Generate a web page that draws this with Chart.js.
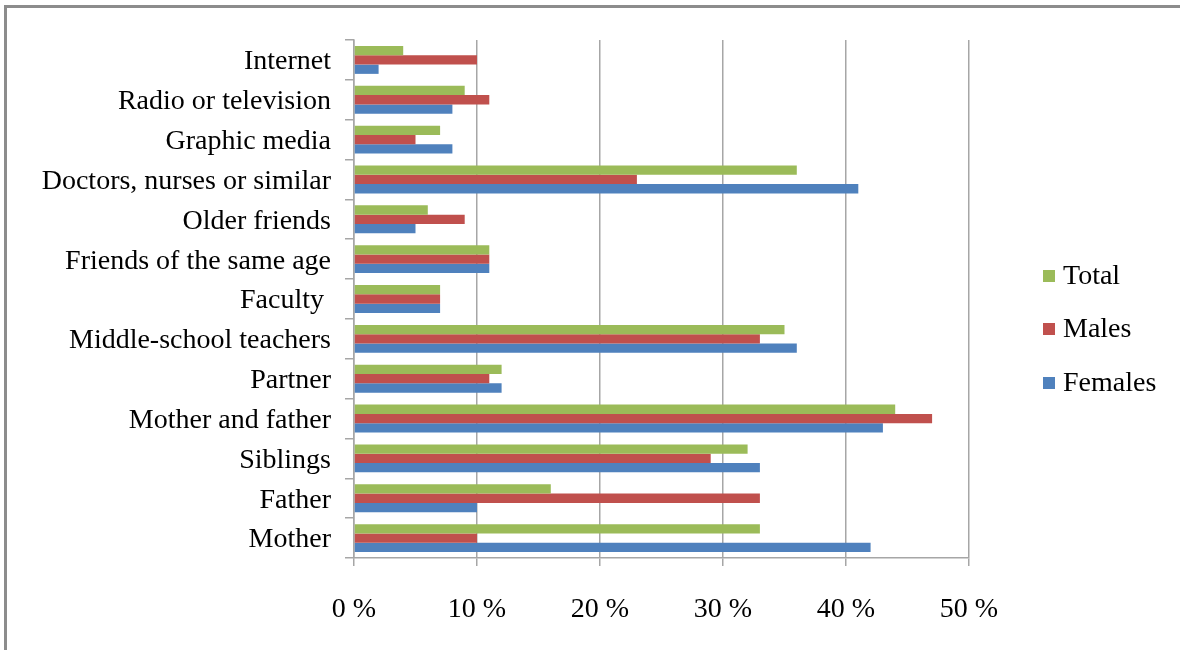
<!DOCTYPE html>
<html>
<head>
<meta charset="utf-8">
<script src="https://cdn.jsdelivr.net/npm/chart.js@4.4.0/dist/chart.umd.min.js"></script>
<style>
  html, body { margin: 0; padding: 0; background: #fff; }
  #wrap { position: relative; width: 1180px; height: 650px; }
</style>
</head>
<body>
<div id="wrap"><canvas id="sources-chart" width="1180" height="650"></canvas></div>
<script>
var categories = ["Internet", "Radio or television", "Graphic media", "Doctors, nurses or similar",
  "Older friends", "Friends of the same age", "Faculty ", "Middle-school teachers", "Partner",
  "Mother and father", "Siblings", "Father", "Mother"];
var totalValues   = [4, 9, 7, 36, 6, 11, 7, 35, 12, 44, 32, 16, 33];
var maleValues    = [10, 11, 5, 23, 9, 11, 7, 33, 11, 47, 29, 33, 10];
var femaleValues  = [2, 8, 8, 41, 5, 11, 7, 36, 12, 43, 33, 10, 42];
var tickValues = [0, 10, 20, 30, 40, 50];

var serif = "'Liberation Serif', 'DejaVu Serif', serif";
var gridGrey = "#a6a6a6";

// frame lines round the picture + legend on the right
var extras = {
  id: "extras",
  afterDraw: function(chart) {
    var c = chart.ctx;
    c.save();
    c.fillStyle = "#8c8c8c";
    c.fillRect(4, 5, 1176, 3);
    c.fillRect(4, 5, 3, 645);
    var ys = [276, 329, 383];
    chart.data.datasets.forEach(function(ds, i) {
      c.fillStyle = ds.backgroundColor;
      c.fillRect(1043, ys[i] - 6, 12, 12);
      c.fillStyle = "#000";
      c.font = "28px " + serif;
      c.textBaseline = "middle";
      c.fillText(ds.label, 1063, ys[i] + 1);
    });
    c.restore();
  }
};

var ctx = document.getElementById("sources-chart").getContext("2d");
var chart = new Chart(ctx, {
  type: "bar",
  data: {
    labels: categories,
    datasets: [
      { label: "Total", data: totalValues, backgroundColor: "#9bbb59" },
      { label: "Males", data: maleValues, backgroundColor: "#c0504d" },
      { label: "Females", data: femaleValues, backgroundColor: "#4f81bd" }
    ]
  },
  options: {
    indexAxis: "y",
    responsive: false,
    animation: false,
    categoryPercentage: 0.7,
    barPercentage: 1,
    layout: { padding: { left: 0, right: 211, top: 40, bottom: 0 } },
    plugins: { legend: { display: false }, tooltip: { enabled: false } },
    scales: {
      x: {
        min: 0, max: 50,
        afterBuildTicks: function(s) { s.ticks = tickValues.map(function(v) { return { value: v }; }); },
        afterFit: function(s) { s.height = 92; },
        grid: { color: gridGrey, lineWidth: 1.5, tickLength: 8 },
        border: { color: gridGrey, width: 1.5 },
        ticks: {
          color: "#000", padding: 27,
          font: { family: serif, size: 28 },
          callback: function(v) { return v + " %"; }
        }
      },
      y: {
        afterFit: function(s) { s.width = 354; },
        grid: { offset: true, drawOnChartArea: false, color: gridGrey, lineWidth: 1.5, tickLength: 9 },
        border: { color: gridGrey, width: 1.5 },
        ticks: { color: "#000", padding: 14, labelOffset: 2, font: { family: serif, size: 28 } }
      }
    }
  },
  plugins: [extras]
});
</script>
</body>
</html>
